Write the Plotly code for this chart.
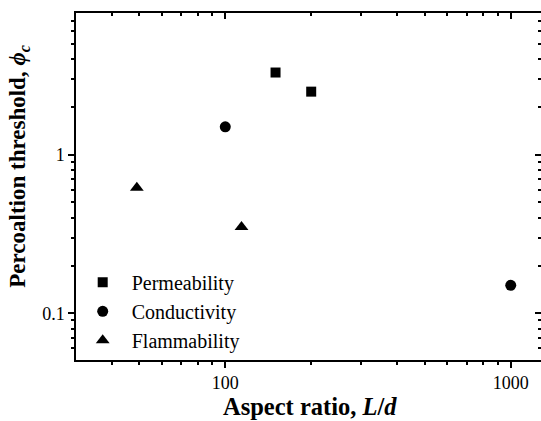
import math
import plotly.graph_objects as go

# ---- data ----
series_names = ["Permeability", "Conductivity", "Flammability"]
perm_x = [150, 200]
perm_y = [3.3, 2.5]
cond_x = [100, 1000]
cond_y = [1.5, 0.15]
flam_x = [49, 114]
flam_y = [0.62, 0.35]

x_major = [100, 1000]
x_major_text = ["100", "1000"]
x_minor = [40, 50, 60, 70, 80, 90, 200, 300, 400, 500, 600, 700, 800, 900]
y_major = [0.1, 1]
y_major_text = ["0.1", "1"]
y_minor = [0.06, 0.07, 0.08, 0.09, 0.2, 0.3, 0.4, 0.5, 0.6, 0.7, 0.8, 0.9,
           2, 3, 4, 5, 6, 7, 8]

x_range = [math.log10(30), 3.106]
y_range = [-1.295, 0.894]

FONT = "Liberation Serif"
BLACK = "#000000"

fig = go.Figure()
fig.add_trace(go.Scatter(x=perm_x, y=perm_y, mode="markers", name=series_names[0],
                         marker=dict(symbol="square", size=10, color=BLACK)))
fig.add_trace(go.Scatter(x=cond_x, y=cond_y, mode="markers", name=series_names[1],
                         marker=dict(symbol="circle", size=11, color=BLACK)))
fig.add_trace(go.Scatter(x=flam_x, y=flam_y, mode="markers", name=series_names[2],
                         marker=dict(symbol="triangle-up", size=12, color=BLACK)))
# helper (empty) trace so mirror axes are drawn
fig.add_trace(go.Scatter(x=[], y=[], xaxis="x2", yaxis="y2", showlegend=False,
                         hoverinfo="skip"))

common_axis = dict(type="log", showgrid=False, zeroline=False, linecolor=BLACK,
                   linewidth=1.5, tickcolor=BLACK, tickwidth=1.5)

fig.update_layout(
    width=541, height=421,
    margin=dict(l=76, r=0, t=13, b=61),
    paper_bgcolor="white", plot_bgcolor="white",
    font=dict(family=FONT, color=BLACK, size=18),
    xaxis=dict(**common_axis, range=x_range, showline=True, ticks="outside",
               ticklen=6, tickmode="array", tickvals=x_major, ticktext=x_major_text,
               tickfont=dict(family=FONT, size=18, color=BLACK),
               minor=dict(tickmode="array", tickvals=x_minor, ticks="outside",
                          ticklen=3, tickwidth=1.5, tickcolor=BLACK)),
    yaxis=dict(**common_axis, range=y_range, showline=True, ticks="outside",
               ticklen=6, tickmode="array", tickvals=y_major, ticktext=y_major_text,
               tickfont=dict(family=FONT, size=18, color=BLACK),
               minor=dict(tickmode="array", tickvals=y_minor, ticks="outside",
                          ticklen=3, tickwidth=1.5, tickcolor=BLACK)),
    xaxis2=dict(**common_axis, range=x_range, overlaying="x", side="top", anchor="y2",
                showline=True, ticks="inside", ticklen=6, showticklabels=False,
                tickmode="array", tickvals=x_major,
                minor=dict(tickmode="array", tickvals=x_minor, ticks="inside",
                           ticklen=3, tickwidth=1.5, tickcolor=BLACK)),
    yaxis2=dict(**common_axis, range=y_range, overlaying="y", side="right", anchor="x2",
                showline=False, ticks="inside", ticklen=6, showticklabels=False,
                tickmode="array", tickvals=y_major,
                minor=dict(tickmode="array", tickvals=y_minor, ticks="inside",
                           ticklen=3, tickwidth=1.5, tickcolor=BLACK)),
    legend=dict(x=(73.7 - 76) / 465, y=(360 - 263) / 346.5, xanchor="left", yanchor="top",
                bgcolor="rgba(0,0,0,0)", borderwidth=0,
                font=dict(family=FONT, size=20, color=BLACK), itemwidth=48),
    showlegend=True,
)

fig.add_annotation(text="<b>Aspect ratio, <i>L</i>/<i>d</i></b>", xref="paper", yref="paper",
                   x=(310 - 76) / 465, y=-(406 - 360) / 346.5, xanchor="center",
                   yanchor="middle", showarrow=False,
                   font=dict(family=FONT, size=24.5, color=BLACK))
fig.add_annotation(text="<b>Percoaltion threshold, <i>ϕ</i><sub><i>c</i></sub></b>",
                   xref="paper", yref="paper", textangle=-90,
                   x=(19 - 76) / 465, y=(360 - 167) / 346.5, xanchor="center",
                   yanchor="middle", showarrow=False,
                   font=dict(family=FONT, size=23, color=BLACK))

fig.write_html("out.html", config={"displayModeBar": False},
               post_script="document.body.style.margin='0px';")
